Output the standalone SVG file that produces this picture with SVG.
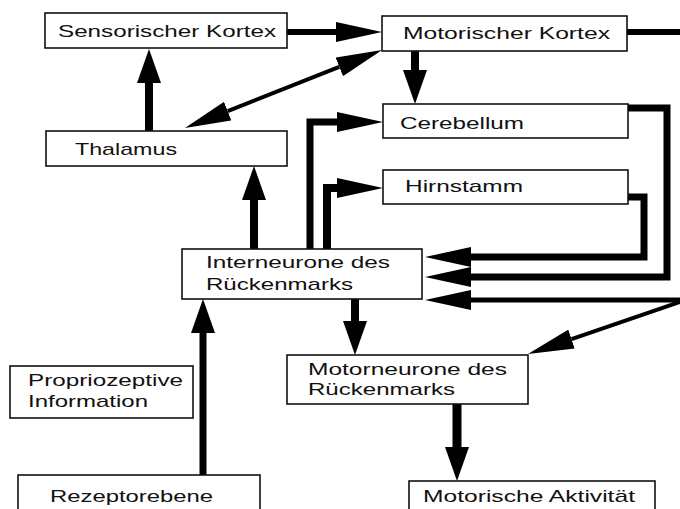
<svg xmlns="http://www.w3.org/2000/svg" width="680" height="509" viewBox="0 0 680 509">
<style>
.box{fill:#fff;stroke:#111;stroke-width:1.6}
.t{font-family:"Liberation Sans",Arial,sans-serif;font-size:17px;fill:#111}
.c{fill:none;stroke:#000;stroke-linejoin:miter}
</style>
<defs>
<marker id="hs" markerUnits="userSpaceOnUse" viewBox="0 0 34 24" refX="0" refY="12" markerWidth="34" markerHeight="24" orient="auto"><path d="M0,0 L34,12 L0,24 Z" fill="#000"/></marker>
<marker id="hl" markerUnits="userSpaceOnUse" viewBox="0 0 46 20" refX="0" refY="10" markerWidth="46" markerHeight="20" orient="auto-start-reverse"><path d="M0,0 L46,10 L0,20 Z" fill="#000"/></marker>
</defs>
<rect width="680" height="509" fill="#fff"/>
<g id="connectors">
<path class="c" d="M287,32 H336" stroke-width="6" marker-end="url(#hl)"/>
<path class="c" d="M627,32 H680" stroke-width="6"/>
<path class="c" d="M415,51 V70" stroke-width="8" marker-end="url(#hs)"/>
<path class="c" d="M149,131 V83" stroke-width="8" marker-end="url(#hs)"/>
<path class="c" d="M227.7,111.1 L339.3,66.9" stroke-width="4" marker-start="url(#hl)" marker-end="url(#hl)"/>
<path class="c" d="M254,249 V200" stroke-width="8" marker-end="url(#hs)"/>
<path class="c" d="M310,249 V122 H337" stroke-width="7" marker-end="url(#hl)"/>
<path class="c" d="M327,249 V188 H337" stroke-width="8" marker-end="url(#hl)"/>
<path class="c" d="M628,108 H667 V277 H471" stroke-width="7" marker-end="url(#hl)"/>
<path class="c" d="M628,197 H644 V257 H471" stroke-width="7" marker-end="url(#hl)"/>
<path class="c" d="M680,300 H471" stroke-width="5" marker-end="url(#hl)"/>
<path class="c" d="M680,302 L571.5,339.1" stroke-width="4" marker-end="url(#hl)"/>
<path class="c" d="M355,299 V321" stroke-width="8" marker-end="url(#hs)"/>
<path class="c" d="M203,475 V333" stroke-width="7" marker-end="url(#hs)"/>
<path class="c" d="M457,404 V447" stroke-width="9" marker-end="url(#hs)"/>
</g>
<g id="sensorischer-kortex"><rect class="box" x="45" y="13" width="242" height="35"/><text class="t" x="58" y="37" textLength="218" lengthAdjust="spacingAndGlyphs">Sensorischer Kortex</text></g>
<g id="motorischer-kortex"><rect class="box" x="382" y="16" width="245" height="35"/><text class="t" x="403" y="39" textLength="207" lengthAdjust="spacingAndGlyphs">Motorischer Kortex</text></g>
<g id="thalamus"><rect class="box" x="46" y="131" width="241" height="35"/><text class="t" x="75" y="155" textLength="102" lengthAdjust="spacingAndGlyphs">Thalamus</text></g>
<g id="cerebellum"><rect class="box" x="383" y="104" width="245" height="34"/><text class="t" x="400" y="129" textLength="124" lengthAdjust="spacingAndGlyphs">Cerebellum</text></g>
<g id="hirnstamm"><rect class="box" x="383" y="170" width="245" height="34"/><text class="t" x="405" y="192" textLength="118" lengthAdjust="spacingAndGlyphs">Hirnstamm</text></g>
<g id="interneurone"><rect class="box" x="182" y="249" width="240" height="50"/><text class="t" x="206" y="268" textLength="184" lengthAdjust="spacingAndGlyphs">Interneurone des</text><text class="t" x="206" y="290" textLength="147" lengthAdjust="spacingAndGlyphs">Rückenmarks</text></g>
<g id="motorneurone"><rect class="box" x="287" y="355" width="241" height="49"/><text class="t" x="308" y="375" textLength="199" lengthAdjust="spacingAndGlyphs">Motorneurone des</text><text class="t" x="308" y="395" textLength="147" lengthAdjust="spacingAndGlyphs">Rückenmarks</text></g>
<g id="propriozeptive"><rect class="box" x="10" y="366" width="183" height="52" stroke-width="2.2"/><text class="t" x="28" y="386" textLength="155" lengthAdjust="spacingAndGlyphs">Propriozeptive</text><text class="t" x="28" y="407" textLength="120" lengthAdjust="spacingAndGlyphs">Information</text></g>
<g id="rezeptorebene"><rect class="box" x="18" y="475" width="242" height="45"/><text class="t" x="50" y="502" textLength="163" lengthAdjust="spacingAndGlyphs">Rezeptorebene</text></g>
<g id="motorische-aktivitaet"><rect class="box" x="409" y="481" width="246" height="40"/><text class="t" x="423" y="502" textLength="212" lengthAdjust="spacingAndGlyphs">Motorische Aktivität</text></g>
</svg>
